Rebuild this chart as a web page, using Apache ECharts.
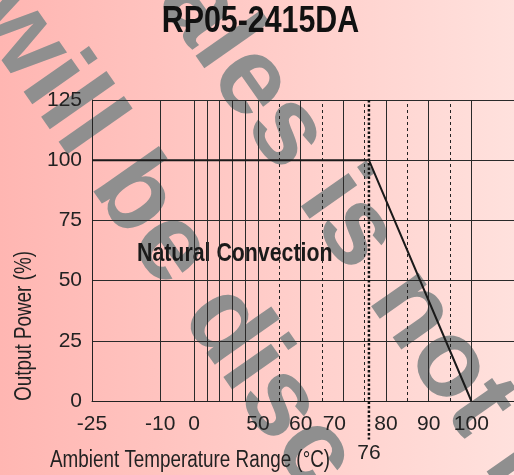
<!DOCTYPE html>
<html>
<head>
<meta charset="utf-8">
<script src="https://cdn.jsdelivr.net/npm/echarts@6/dist/echarts.min.js"></script>
<style>
html, body { margin: 0; padding: 0; }
#chart { width: 514px; height: 475px; background: linear-gradient(to right, #ffb6b2, #ffe1dd); }
</style>
</head>
<body>
<div id="chart"></div>
<script>
// 降额曲线 数据
const tempData = [-25, 76, 100]
const powerData = [100, 100, 0]
// 横轴 刻度
const xLabelTemps = [-25, -10, 0, 50, 60, 70, 80, 90, 100]
const xSolidTemps = [-25, -10, 0, 10, 20, 30, 40, 50, 60, 70, 80, 90, 100, 110]
const xDashTemps = [55, 65, 75, 85, 95]
const markTemp = 76
const markLabel = "76"
// 纵轴 刻度
const yTicks = [0, 25, 50, 75, 100, 125]
// 横轴 分段比例 (温度 -> 轴单位)
const axisTemps = [-25, -10, 0, 50, 110]
const axisUnits = [11.1, 27.1, 35, 50, 110]

const FONT = '"Liberation Sans", Arial, sans-serif'
const NARROW = 0.82 // 窄体字 横向压缩

// 温度 转 轴单位
function toU(t) {
  for (let i = 0; i < axisTemps.length - 1; i++) {
    if (t <= axisTemps[i + 1]) {
      const k = (t - axisTemps[i]) / (axisTemps[i + 1] - axisTemps[i])
      return axisUnits[i] + k * (axisUnits[i + 1] - axisUnits[i])
    }
  }
  return axisUnits[axisUnits.length - 1]
}
function toT(u) {
  const hit = xSolidTemps.find(t => Math.abs(toU(t) - u) < 0.01)
  return hit === undefined ? "" : hit
}

const myChart = echarts.init(document.getElementById("chart"))

const ang = -55 * Math.PI / 180
const wmFont = 'bold 110px "Liberation Sans", Arial, sans-serif'
let option = {
  animation: false,
  textStyle: { fontFamily: FONT },
  graphic: [
    // 水印
    { type: "text", z: -100, x: -5, y: -2, rotation: ang,
      style: { text: "will be discontinued", font: wmFont, fill: "#8f8f8f", align: "left", verticalAlign: "middle" } },
    { type: "text", z: -100, x: 139, y: -78, rotation: ang,
      style: { text: "Sales is not recommended", font: wmFont, fill: "#8f8f8f", align: "left", verticalAlign: "middle" } },
    // 标题
    { type: "text", x: 260.5, y: 22, scaleX: NARROW,
      style: { text: "RP05-2415DA", font: "bold 37px " + FONT, fill: "#111", align: "center", verticalAlign: "middle" } },
    { type: "text", x: 137, y: 254, scaleX: NARROW,
      style: { text: "Natural Convection", font: "bold 26px " + FONT, fill: "#1a1a1a", align: "left", verticalAlign: "middle" } },
    { type: "text", x: 50, y: 461, scaleX: NARROW,
      style: { text: "Ambient Temperature Range (°C)", font: "23px " + FONT, fill: "#222", align: "left", verticalAlign: "middle" } },
    { type: "text", x: 24.5, y: 326, rotation: Math.PI / 2, scaleX: NARROW,
      style: { text: "Output Power (%)", font: "23px " + FONT, fill: "#222", align: "center", verticalAlign: "middle" } },
  ],
  grid: { left: 92, top: 100, width: 426, height: 301 },
  xAxis: {
    type: "value",
    min: toU(-25),
    max: toU(110),
    axisLine: { show: true, lineStyle: { color: "#222", width: 1 } },
    axisTick: { show: false, customValues: xSolidTemps.map(toU) },
    axisLabel: {
      customValues: xLabelTemps.map(toU),
      margin: 13,
      fontSize: 21,
      color: "#222",
      fontFamily: FONT,
      formatter: v => {
        const t = toT(v)
        return t === 70 ? "{l|70}" : String(t)
      },
      rich: { l: { fontSize: 21, fontFamily: FONT, color: "#222", padding: [0, 18, 0, 0] } },
    },
    splitLine: { show: true, lineStyle: { color: "#2a2a2a", width: 1 } },
  },
  yAxis: {
    type: "value",
    min: 0,
    max: 125,
    interval: 25,
    axisLine: { show: true, lineStyle: { color: "#222", width: 1 } },
    axisTick: { show: false },
    axisLabel: { margin: 10, fontSize: 21, color: "#222", fontFamily: FONT },
    splitLine: { show: true, lineStyle: { color: "#2a2a2a", width: 1 } },
  },
  series: [
    {
      type: "line",
      data: tempData.map((t, i) => [toU(t), powerData[i]]),
      showSymbol: false,
      lineStyle: { color: "#1a1a1a", width: 2 },
      z: 5,
      markLine: {
        silent: true,
        symbol: "none",
        label: { show: false },
        lineStyle: { color: "#222", width: 1, type: [3, 3] },
        data: xDashTemps.map(t => ({ xAxis: toU(t) })),
      },
    },
    {
      type: "line",
      clip: false,
      data: [
        [toU(markTemp), 125],
        { value: [toU(markTemp), -16], label: { show: true, position: "bottom", distance: 3, formatter: markLabel, fontSize: 21, color: "#222", fontFamily: FONT } },
      ],
      symbol: "circle",
      symbolSize: 0.01,
      itemStyle: { color: "#111" },
      lineStyle: { color: "#111", width: 2.5, type: [2.5, 2] },
      z: 4,
    },
  ],
}
myChart.setOption(option)
</script>
</body>
</html>
